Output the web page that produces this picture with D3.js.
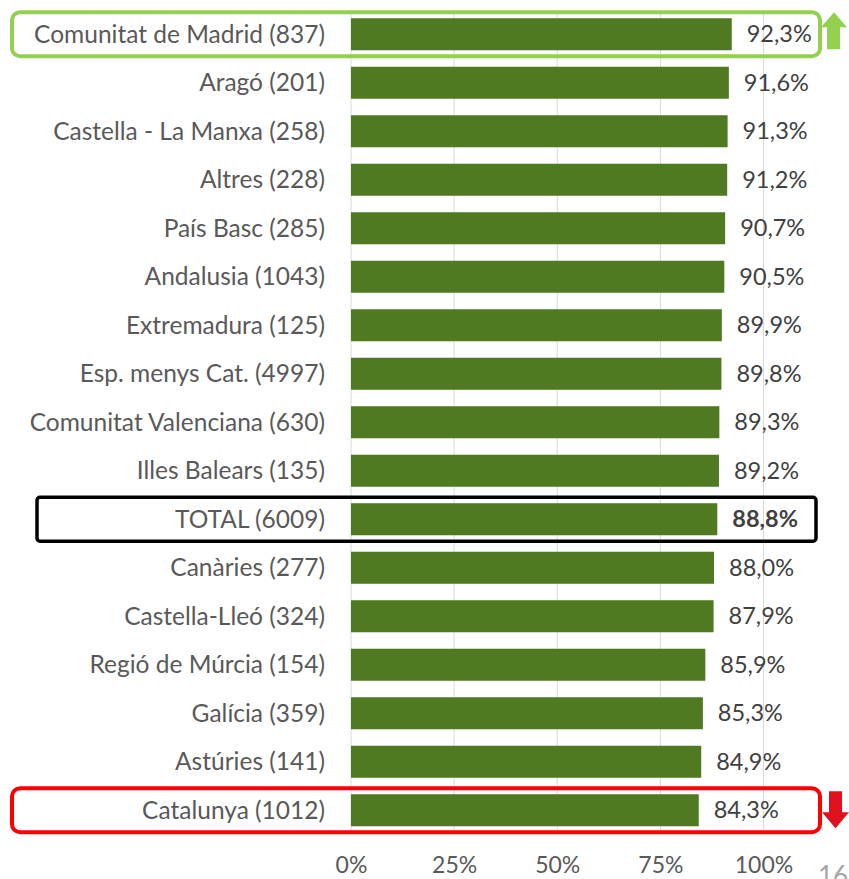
<!DOCTYPE html>
<html><head><meta charset="utf-8">
<script src="https://cdn.jsdelivr.net/npm/d3@7"></script>
<style>body{margin:0;background:#fff;} svg{display:block;}</style>
</head><body>
<svg id="chart" width="849" height="879"></svg>
<script>
const categories = ["Comunitat de Madrid (837)","Aragó (201)","Castella - La Manxa (258)","Altres (228)","País Basc (285)","Andalusia (1043)","Extremadura (125)","Esp. menys Cat. (4997)","Comunitat Valenciana (630)","Illes Balears (135)","TOTAL (6009)","Canàries (277)","Castella-Lleó (324)","Regió de Múrcia (154)","Galícia (359)","Astúries (141)","Catalunya (1012)"];
const values = [92.3,91.6,91.3,91.2,90.7,90.5,89.9,89.8,89.3,89.2,88.8,88.0,87.9,85.9,85.3,84.9,84.3];
const tickValues = [0,25,50,75,100];
const tickLabels = ["0%","25%","50%","75%","100%"];
const pageNumber = "16";

const svg = d3.select("#chart");
const font = "Lato, 'Open Sans', sans-serif";
const x = d3.scaleLinear().domain([0,100]).range([351,763.5]);
const y = d3.scaleBand().domain(categories).range([10,834.5]).paddingInner(0.34).paddingOuter(0.17);

// gridlines
svg.append("g").selectAll("line").data(tickValues).join("line")
  .attr("x1",d=>x(d)).attr("x2",d=>x(d)).attr("y1",10).attr("y2",834)
  .attr("stroke","#d9d9d9").attr("stroke-width",1);

// axis labels
const ax = svg.append("g").attr("transform","translate(0,873)")
  .call(d3.axisBottom(x).tickValues(tickValues).tickFormat((d,i)=>tickLabels[i]).tickSize(0).tickPadding(0));
ax.select(".domain").remove();
ax.selectAll("text").attr("font-family",font).attr("font-size",23).attr("fill","#595959").attr("dy","0");

// bars
svg.append("g").selectAll("rect").data(categories).join("rect")
  .attr("x",x(0)).attr("y",d=>y(d)).attr("height",y.bandwidth())
  .attr("width",(d,i)=>x(values[i])-x(0)).attr("fill","#4F7A22");

// category labels
svg.append("g").selectAll("text").data(categories).join("text")
  .attr("x",325).attr("y",d=>y(d)+y.bandwidth()/2).attr("dy","0.35em")
  .attr("text-anchor","end").attr("font-family",font).attr("font-size",24.5).attr("fill","#595959")
  .text(d=>d);

// value labels
svg.append("g").selectAll("text").data(categories).join("text")
  .attr("x",(d,i)=>x(values[i])+15).attr("y",d=>y(d)+y.bandwidth()/2).attr("dy","0.35em")
  .attr("font-family",font).attr("font-size",23.5).attr("fill","#404040")
  .attr("font-weight",d=>d.startsWith("TOTAL")?"bold":"normal")
  .text((d,i)=>d3.format(".1f")(values[i]).replace(".",",")+"%");

// highlight boxes
function box(cat,x0,x1,color,sw,r){
  const c = y(cat)+y.bandwidth()/2;
  svg.append("rect").attr("x",x0).attr("y",c-22).attr("width",x1-x0).attr("height",44)
    .attr("rx",r).attr("fill","none").attr("stroke",color).attr("stroke-width",sw);
}
box(categories[0],12,820,"#92D050",4,8);
box("TOTAL (6009)",37,816,"#000000",3.5,3);
box(categories[16],12,820,"#FF0000",4,8);

// arrows
const cTop = y(categories[0])+y.bandwidth()/2;
svg.append("path").attr("fill","#92D050")
  .attr("d",`M834,${cTop-22} L847,${cTop-7} L840,${cTop-7} L840,${cTop+15} L827,${cTop+15} L827,${cTop-7} L821,${cTop-7} Z`);
const cBot = y(categories[16])+y.bandwidth()/2;
svg.append("path").attr("fill","#E0101E")
  .attr("d",`M829,${cBot-19} L842,${cBot-19} L842,${cBot+2} L849,${cBot+2} L835.5,${cBot+18} L822,${cBot+2} L829,${cBot+2} Z`);

// page number
svg.append("text").attr("x",818).attr("y",885).attr("font-family",font).attr("font-size",26)
  .attr("fill","#a6a6a6").text(pageNumber);
</script>
</body></html>
